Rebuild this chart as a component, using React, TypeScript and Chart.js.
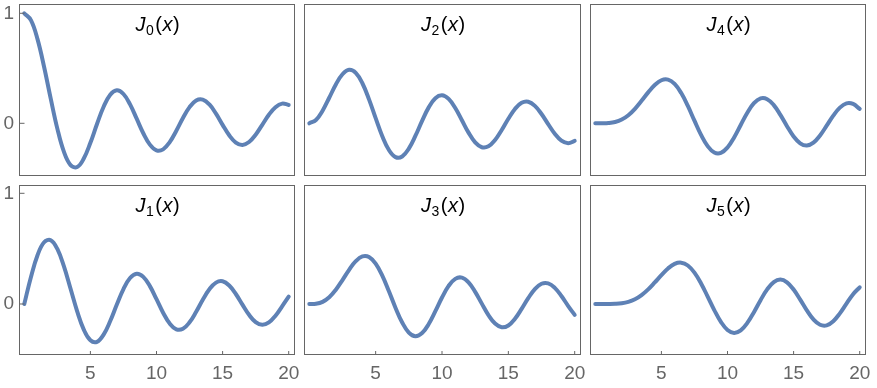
import React, { useEffect, useRef } from "react";
import { Chart, registerables } from "chart.js";

Chart.register(...registerables);

const xValues = [
  0, 0.5, 1, 1.5, 2, 2.5, 3, 3.5, 4, 4.5, 5, 5.5, 6, 6.5, 7, 7.5, 8, 8.5, 9, 9.5, 10,
  10.5, 11, 11.5, 12, 12.5, 13, 13.5, 14, 14.5, 15, 15.5, 16, 16.5, 17, 17.5, 18, 18.5, 19, 19.5, 20,
];

const besselJ0 = [
  1.0, 0.9385, 0.7652, 0.5118, 0.2239, -0.0484, -0.2601, -0.3801, -0.3971, -0.3205, -0.1776,
  -0.0068, 0.1506, 0.2601, 0.3001, 0.2663, 0.1717, 0.0419, -0.0903, -0.1939, -0.2459,
  -0.2366, -0.1712, -0.0677, 0.0477, 0.1469, 0.2069, 0.215, 0.1711, 0.0875, -0.0142,
  -0.1092, -0.1749, -0.1964, -0.1699, -0.1033, -0.0134, 0.0772, 0.1466, 0.1789, 0.167,
];

const besselJ1 = [
  0, 0.2423, 0.4401, 0.5579, 0.5767, 0.4971, 0.3391, 0.1374, -0.066, -0.2311, -0.3276,
  -0.3414, -0.2767, -0.1538, -0.0047, 0.1352, 0.2346, 0.2731, 0.2453, 0.1613, 0.0435,
  -0.0789, -0.1768, -0.2284, -0.2234, -0.1655, -0.0703, 0.038, 0.1334, 0.1934, 0.2051,
  0.1672, 0.0904, -0.0058, -0.0977, -0.1634, -0.188, -0.1666, -0.1057, -0.0209, 0.0668,
];

const besselJ2 = [
  0, 0.0306, 0.1149, 0.2321, 0.3528, 0.4461, 0.4861, 0.4586, 0.3641, 0.2178, 0.0466,
  -0.1173, -0.2429, -0.3074, -0.3014, -0.2302, -0.113, 0.0224, 0.1448, 0.2279, 0.2546,
  0.2216, 0.139, 0.028, -0.0849, -0.1734, -0.2177, -0.2094, -0.152, -0.0608, 0.0416,
  0.1308, 0.1862, 0.1957, 0.1584, 0.0846, -0.0075, -0.0952, -0.1578, -0.181, -0.1603,
];

const besselJ3 = [
  0, 0.0026, 0.0196, 0.061, 0.1289, 0.2166, 0.3091, 0.3868, 0.4302, 0.4247, 0.3648,
  0.2561, 0.1148, -0.0354, -0.1676, -0.258, -0.2911, -0.2626, -0.1809, -0.0653, 0.0584,
  0.1633, 0.2273, 0.2381, 0.1951, 0.11, 0.0033, -0.1, -0.1768, -0.2102, -0.194,
  -0.1334, -0.0438, 0.0532, 0.1349, 0.1827, 0.1863, 0.146, 0.0718, -0.0162, -0.0989,
];

const besselJ4 = [
  0, 0.0002, 0.0025, 0.0118, 0.034, 0.0738, 0.132, 0.2044, 0.2811, 0.3485, 0.3912,
  0.3967, 0.3576, 0.2747, 0.1578, 0.0238, -0.1054, -0.2078, -0.2655, -0.2691, -0.2196,
  -0.1283, -0.015, 0.0962, 0.1825, 0.2262, 0.2193, 0.165, 0.0762, -0.0262, -0.1192,
  -0.1824, -0.2026, -0.1764, -0.1107, -0.022, 0.0696, 0.1426, 0.1812, 0.176, 0.1307,
];

const besselJ5 = [
  0, 0.0, 0.0002, 0.0018, 0.007, 0.0195, 0.043, 0.0804, 0.1321, 0.1949, 0.2611,
  0.3209, 0.3621, 0.3735, 0.3479, 0.2834, 0.1858, 0.067, -0.055, -0.1613, -0.2341,
  -0.2611, -0.2383, -0.1712, -0.0735, 0.0348, 0.1316, 0.1978, 0.2204, 0.1957, 0.1305,
  0.0393, -0.0575, -0.1387, -0.187, -0.1928, -0.1554, -0.0843, 0.0036, 0.0884, 0.1512,
];

const seriesByOrder = [besselJ0, besselJ1, besselJ2, besselJ3, besselJ4, besselJ5];
const panelOrders = [
  [0, 2, 4],
  [1, 3, 5],
];
const xTickValues = [5, 10, 15, 20];
const yTickValues = [0, 1];

// ---- layout / style ----
const PAGE_W = 877;
const PAGE_H = 388;
const COLS = [
  { left: 19, right: 294 },
  { left: 304, right: 580 },
  { left: 590, right: 865 },
];
const ROWS = [
  { top: 4, bottom: 175, min: -0.47, max: 1.0845 },
  { top: 185, bottom: 354, min: -0.4517, max: 1.075 },
];
const X_MIN = -0.4;
const X_MAX = 20.4;
const LINE_COLOR = "#5e81b5";
const FRAME_COLOR = "#666666";
const FONT = '"Liberation Sans", Arial, Helvetica, sans-serif';
const TICK_FONT_SIZE = 19;
const TITLE_SIZE = 20;
const SUB_SIZE = 14;

function Panel({ row, col }: { row: number; col: number }) {
  const ref = useRef<HTMLCanvasElement>(null);

  useEffect(() => {
    const canvas = ref.current;
    if (!canvas) return;
    const order = panelOrders[row][col];
    const values = seriesByOrder[order];
    const c = COLS[col];
    const r = ROWS[row];
    const showY = col === 0;
    const showX = row === 1;
    const yW = showY ? c.left : 0;
    const xH = showX ? PAGE_H - r.bottom : 0;

    const framePlugin = {
      id: "frameAndTitle",
      afterDatasetsDraw(chart: any) {
        const { ctx, chartArea: a, scales } = chart;
        ctx.save();
        ctx.strokeStyle = FRAME_COLOR;
        ctx.lineWidth = 1;
        ctx.strokeRect(a.left + 0.5, a.top + 0.5, a.right - a.left, a.bottom - a.top);
        ctx.beginPath();
        if (showY) {
          for (const v of yTickValues) {
            const y = scales.y.getPixelForValue(v);
            ctx.moveTo(a.left + 0.5, y);
            ctx.lineTo(a.left + 5.5, y);
          }
        }
        if (showX) {
          for (const v of xTickValues) {
            const x = scales.x.getPixelForValue(v);
            ctx.moveTo(x, a.bottom + 0.5);
            ctx.lineTo(x, a.bottom - 3);
          }
        }
        ctx.stroke();

        // title J_n(x)
        const parts = [
          { t: "J", font: `italic ${TITLE_SIZE}px ${FONT}`, dy: 0, gap: 0.5 },
          { t: String(order), font: `${SUB_SIZE}px ${FONT}`, dy: 3.5, gap: 1.5 },
          { t: "(", font: `${TITLE_SIZE}px ${FONT}`, dy: 0, gap: 0.5 },
          { t: "x", font: `italic ${TITLE_SIZE}px ${FONT}`, dy: 0, gap: 0.5 },
          { t: ")", font: `${TITLE_SIZE}px ${FONT}`, dy: 0, gap: 0 },
        ];
        let total = 0;
        const widths = parts.map((p) => {
          ctx.font = p.font;
          const w = ctx.measureText(p.t).width;
          total += w + p.gap;
          return w;
        });
        let x = (a.left + a.right) / 2 - total / 2 + 1;
        const base = a.top + 27;
        ctx.fillStyle = "#000000";
        ctx.textBaseline = "alphabetic";
        ctx.textAlign = "left";
        parts.forEach((p, i) => {
          ctx.font = p.font;
          ctx.fillText(p.t, x, base + p.dy);
          x += widths[i] + p.gap;
        });
        ctx.restore();
      },
    };

    const chart = new Chart(canvas, {
      type: "line",
      data: {
        datasets: [
          {
            data: xValues.map((x, i) => ({ x, y: values[i] })),
            borderColor: LINE_COLOR,
            borderWidth: 4,
            pointRadius: 0,
            tension: 0.4,
            fill: false,
            borderCapStyle: "round",
            borderJoinStyle: "round",
          },
        ],
      },
      options: {
        responsive: false,
        animation: false,
        devicePixelRatio: 1,
        events: [],
        layout: {
          padding: {
            left: c.left - yW,
            right: PAGE_W - c.right,
            top: r.top,
            bottom: PAGE_H - r.bottom - xH,
          },
        },
        plugins: {
          legend: { display: false },
          tooltip: { enabled: false },
          title: { display: false },
        },
        scales: {
          x: {
            type: "linear",
            position: "bottom",
            min: X_MIN,
            max: X_MAX,
            afterBuildTicks: (s: any) => {
              s.ticks = xTickValues.map((v) => ({ value: v }));
            },
            afterFit: (s: any) => {
              s.height = xH;
              s.paddingLeft = 0;
              s.paddingRight = 0;
            },
            grid: { display: false, drawTicks: false },
            border: { display: false },
            ticks: {
              display: showX,
              padding: 8,
              color: FRAME_COLOR,
              font: { family: FONT, size: TICK_FONT_SIZE },
              maxRotation: 0,
              autoSkip: false,
              callback: (v: any) => String(v),
            },
          },
          y: {
            type: "linear",
            position: "left",
            min: r.min,
            max: r.max,
            afterBuildTicks: (s: any) => {
              s.ticks = yTickValues.map((v) => ({ value: v }));
            },
            afterFit: (s: any) => {
              s.width = yW;
              s.paddingTop = 0;
              s.paddingBottom = 0;
            },
            grid: { display: false, drawTicks: false },
            border: { display: false },
            ticks: {
              display: showY,
              padding: 5,
              color: FRAME_COLOR,
              font: { family: FONT, size: TICK_FONT_SIZE },
              autoSkip: false,
              callback: (v: any) => String(v),
            },
          },
        },
      },
      plugins: [framePlugin],
    } as any);

    return () => chart.destroy();
  }, [row, col]);

  return (
    <canvas
      ref={ref}
      width={PAGE_W}
      height={PAGE_H}
      style={{ position: "absolute", left: 0, top: 0, width: PAGE_W, height: PAGE_H, display: "block" }}
    />
  );
}

export default function App() {
  const cells: React.ReactNode[] = [];
  for (let row = 0; row < 2; row++) {
    for (let col = 0; col < 3; col++) {
      cells.push(<Panel key={`${row}-${col}`} row={row} col={col} />);
    }
  }
  return (
    <div
      style={{
        position: "absolute",
        left: 0,
        top: 0,
        width: PAGE_W,
        height: PAGE_H,
        background: "#ffffff",
        overflow: "hidden",
      }}
    >
      {cells}
    </div>
  );
}
